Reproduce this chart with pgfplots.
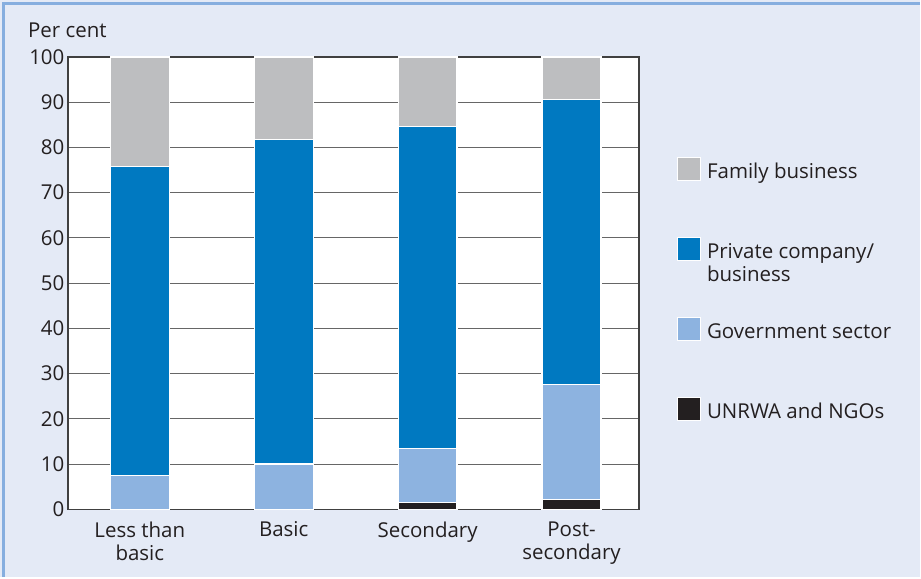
\documentclass[border=0pt]{standalone}
\usepackage{pgfplots}
\pgfplotsset{compat=1.18}
\usepackage{fontspec}
\setmainfont{Open Sans}

\definecolor{bgblue}{HTML}{E4EAF6}
\definecolor{frameblue}{HTML}{86AEDF}
\definecolor{famgray}{HTML}{BDBEC0}
\definecolor{privblue}{HTML}{0079C1}
\definecolor{govblue}{HTML}{8DB3E0}
\definecolor{ngoblack}{HTML}{231F20}
\definecolor{txt}{HTML}{231F20}

\pgfplotstableread{
x ngo gov priv fam
0 0.0 7.5 68.3 24.2
1 0.0 10.0 71.7 18.3
2 1.5 12.0 71.2 15.3
3 2.2 25.4 62.9 9.5
}\shares

\begin{document}
\begin{tikzpicture}[x=1pt,y=1pt,font=\fontsize{20.5}{23.5}\selectfont,text=txt]
\fill[bgblue] (0,0) rectangle (921,578);
\draw[frameblue,line width=2.5pt] (3.5,0) -- (3.5,574.5) -- (921,574.5);
\node[anchor=base west, inner sep=0pt] at (28,540) {Per cent};
\begin{axis}[
  at={(68pt,68pt)}, anchor=south west,
  width=572pt, height=453pt, scale only axis,
  ybar stacked, bar width=59pt,
  xmin=-0.5, xmax=3.47, ymin=0, ymax=100,
  xtick=data,
  xticklabels={{Less than\\basic},Basic,Secondary,{Post-\\secondary}},
  x tick label style={align=center, text=txt},
  ytick={0,10,...,100},
  y tick label style={text=txt},
  /pgf/number format/assume math mode=true,
  major tick length=0pt,
  xticklabel shift=9pt, yticklabel shift=0pt,
  ymajorgrids, grid style={gray!80!black, line width=0.9pt},
  axis line style={black!75, line width=1.3pt},
  axis background/.style={fill=white},
  every axis plot/.append style={draw=white, line width=1.2pt},
  legend style={at={(1,0.779)}, anchor=north west, xshift=38pt,
    draw=none, fill=none, inner sep=0pt, outer sep=0pt,
    row sep=28.5pt, column sep=6pt, text=txt,
    nodes={inner sep=0pt, text height=15pt, text depth=30pt}},
  legend cell align=left,
  reverse legend,
  legend image code/.code={\fill[#1, draw=white, line width=1pt] (0pt,5.5pt) rectangle (23pt,28.5pt);},
]
\addplot[fill=ngoblack] table[x=x,y=ngo] {\shares};
\addplot[fill=govblue] table[x=x,y=gov] {\shares};
\addplot[fill=privblue] table[x=x,y=priv] {\shares};
\addplot[fill=famgray] table[x=x,y=fam] {\shares};
\legend{UNRWA and NGOs,Government sector,{\vtop{\hbox{Private company/}\hbox{business}}},Family business}
\end{axis}
\end{tikzpicture}
\end{document}
